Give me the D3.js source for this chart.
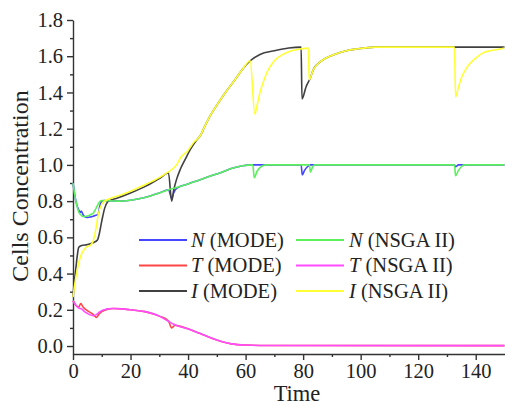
<!DOCTYPE html>
<html>
<head>
<meta charset="utf-8">
<script src="https://cdn.jsdelivr.net/npm/d3@7"></script>
<style>
  body { margin: 0; background: #fff; }
  svg { display: block; font-family: "Liberation Serif", "Times New Roman", serif; }
  .axis path, .axis line { stroke: #333; stroke-width: 1.4; }
  .axis text { fill: #222; font-size: 20.5px; font-family: "Liberation Serif", serif; }
  .curve { fill: none; stroke-width: 1.6; }
</style>
</head>
<body>
<svg id="chart" width="505" height="406"></svg>
<script>
// N cells
var nMode = [[0,0.9],[1,0.8],[2,0.75],[2.5,0.738],[2.9,0.745],[3.5,0.725],[4,0.715],[5,0.71],[6,0.712],[7,0.717],[8,0.722],[8.7,0.726],[9.3,0.77],[9.9,0.797],[11,0.803],[13,0.802],[16,0.8],[20,0.805],[25,0.82],[30,0.845],[33.2,0.863],[34.3,0.815],[35,0.845],[36,0.87],[40,0.895],[44,0.917],[48,0.94],[51,0.955],[55,0.98],[59,0.995],[62,1.0],[79.3,1.0],[79.7,0.945],[80.5,0.97],[81.5,0.99],[82.5,1.0],[132.5,1.0],[133,0.99],[134,1.0],[150,1.0]];
var nNsga = [[0,0.9],[1,0.8],[2,0.74],[3,0.72],[3.5,0.715],[5,0.718],[6,0.725],[7,0.733],[8,0.76],[9,0.79],[9.5,0.8],[10,0.803],[13,0.802],[16,0.8],[20,0.805],[25,0.82],[30,0.845],[33,0.862],[36,0.875],[40,0.895],[44,0.917],[48,0.94],[51,0.955],[55,0.98],[59,0.995],[62.5,1.0],[63,0.93],[64,0.965],[65,0.985],[66,0.995],[67,1.0],[82.2,1.0],[82.5,0.96],[83.2,0.985],[84,1.0],[132.6,1.0],[133,0.94],[134,0.97],[135,0.99],[136,1.0],[150,1.0]];
// T cells
var tMode = [[0,0.25],[1,0.225],[2,0.215],[2.7,0.235],[3.5,0.215],[5,0.195],[7,0.175],[8.2,0.158],[9,0.175],[10,0.19],[12,0.203],[14,0.207],[17,0.205],[20,0.2],[25,0.19],[30,0.165],[33.2,0.138],[34.3,0.1],[35.5,0.115],[37,0.11],[40,0.095],[44,0.07],[50,0.033],[55,0.012],[60,0.006],[70,0.003],[150,0.002]];
var tNsga = [[0,0.25],[1,0.225],[2,0.21],[3,0.205],[4,0.19],[5,0.18],[6,0.172],[7,0.168],[8,0.172],[9,0.185],[10,0.195],[11,0.2],[12,0.205],[14,0.207],[17,0.205],[20,0.2],[25,0.19],[30,0.165],[33,0.138],[35,0.12],[40,0.095],[44,0.07],[50,0.033],[55,0.012],[60,0.006],[70,0.003],[150,0.002]];
// I cells
var iMode = [[0,0.27],[0.5,0.36],[1,0.43],[1.5,0.5],[2,0.545],[3,0.555],[5,0.56],[7,0.57],[8.5,0.585],[9,0.61],[10,0.69],[11,0.76],[12,0.795],[13,0.805],[15,0.815],[20,0.845],[25,0.88],[30,0.925],[33.2,0.955],[34.3,0.8],[35,0.86],[36,0.92],[37.2,0.972],[39,1.03],[40.7,1.083],[43,1.138],[44.2,1.16],[46,1.22],[48,1.28],[50,1.33],[53,1.4],[56.3,1.47],[59,1.53],[61.6,1.575],[65,1.61],[70,1.63],[75,1.645],[79.3,1.65],[79.6,1.364],[81,1.43],[82.5,1.48],[83.5,1.525],[86,1.57],[90.4,1.607],[95,1.63],[98.7,1.64],[105,1.65],[150,1.65]];
var iNsga = [[0,0.27],[1,0.38],[2,0.46],[3,0.51],[4,0.535],[5,0.55],[6,0.556],[7,0.58],[7.5,0.61],[8,0.65],[8.7,0.72],[9.9,0.78],[11.5,0.805],[13,0.815],[15,0.825],[20,0.855],[25,0.89],[30,0.93],[33,0.96],[36,1.0],[37.2,1.035],[40,1.08],[42,1.125],[44.2,1.16],[46,1.22],[48,1.28],[50,1.33],[53,1.4],[56.3,1.47],[59,1.53],[61.6,1.575],[63.2,1.28],[64,1.33],[65,1.4],[66,1.45],[67.4,1.51],[70,1.575],[73,1.61],[76,1.63],[79,1.64],[81.8,1.645],[82.1,1.47],[83.5,1.525],[86,1.57],[90.4,1.607],[95,1.63],[98.7,1.64],[105,1.65],[132.6,1.65],[133,1.375],[134,1.43],[135,1.48],[137,1.54],[140,1.59],[142.7,1.62],[145,1.63],[148.5,1.64],[150,1.645]];

var xTicks = [0, 20, 40, 60, 80, 100, 120, 140];
var yTicks = [0.0, 0.2, 0.4, 0.6, 0.8, 1.0, 1.2, 1.4, 1.6, 1.8];

// legend order: col 1 MODE, col 2 NSGA II
var seriesData = [nMode, tMode, iMode, nNsga, tNsga, iNsga];
var seriesVar = ["N", "T", "I", "N", "T", "I"];
var seriesMethod = ["(MODE)", "(MODE)", "(MODE)", "(NSGA II)", "(NSGA II)", "(NSGA II)"];
var seriesColor = ["#4646ff", "#ff4646", "#404040", "#5cf05c", "#ff4cff", "#ffff33"];

var svg = d3.select("#chart");
var mLeft = 73, mRight = 504.5, mTop = 20, mBottom = 354;

var x = d3.scaleLinear().domain([0, 150]).range([mLeft, mRight]);
var y = d3.scaleLinear().domain([-0.044, 1.8]).range([mBottom, mTop]);

// minor ticks first
svg.append("g").attr("class", "axis")
  .attr("transform", "translate(0," + mBottom + ")")
  .call(d3.axisBottom(x).tickValues(d3.range(10, 150, 20)).tickSize(3).tickFormat(""))
  .select(".domain").remove();
svg.append("g").attr("class", "axis")
  .attr("transform", "translate(" + mLeft + ",0)")
  .call(d3.axisLeft(y).tickValues(d3.range(0.1, 1.8, 0.2)).tickSize(3).tickFormat(""))
  .select(".domain").remove();

svg.append("g").attr("class", "axis")
  .attr("transform", "translate(0," + mBottom + ")")
  .call(d3.axisBottom(x).tickValues(xTicks).tickSize(6).tickSizeOuter(0).tickPadding(3));
svg.append("g").attr("class", "axis")
  .attr("transform", "translate(" + mLeft + ",0)")
  .call(d3.axisLeft(y).tickValues(yTicks).tickSize(6).tickSizeOuter(0).tickPadding(4).tickFormat(d3.format(".1f")));

var line = d3.line()
  .x(function(d) { return x(d[0]); })
  .y(function(d) { return y(d[1]); })
  .curve(d3.curveMonotoneX);

svg.append("g").selectAll("path")
  .data(seriesData)
  .enter().append("path")
  .attr("class", "curve")
  .attr("stroke", function(d, i) { return seriesColor[i]; })
  .attr("d", line);

// axis titles
svg.append("text")
  .attr("x", 297).attr("y", 401)
  .attr("text-anchor", "middle")
  .attr("font-size", 22.5).attr("fill", "#222")
  .text("Time");
svg.append("text")
  .attr("transform", "translate(28,186) rotate(-90)")
  .attr("text-anchor", "middle")
  .attr("font-size", 24).attr("fill", "#222")
  .text("Cells Concentration");

// legend
var legX = [139, 296], legTextX = [191, 349], legY = [240, 265.5, 291];
var leg = svg.append("g").selectAll("g")
  .data(seriesData)
  .enter().append("g")
  .attr("transform", function(d, i) {
    return "translate(0," + legY[i % 3] + ")";
  });
leg.append("line")
  .attr("x1", function(d, i) { return legX[Math.floor(i / 3)]; })
  .attr("x2", function(d, i) { return legX[Math.floor(i / 3)] + 48; })
  .attr("stroke", function(d, i) { return seriesColor[i]; })
  .attr("stroke-width", 1.8);
var lt = leg.append("text")
  .attr("x", function(d, i) { return legTextX[Math.floor(i / 3)]; })
  .attr("y", 6.5)
  .attr("font-size", 20.5).attr("fill", "#222");
lt.append("tspan").attr("font-style", "italic").text(function(d, i) { return seriesVar[i]; });
lt.append("tspan").text(function(d, i) { return " " + seriesMethod[i]; });
</script>
</body>
</html>
